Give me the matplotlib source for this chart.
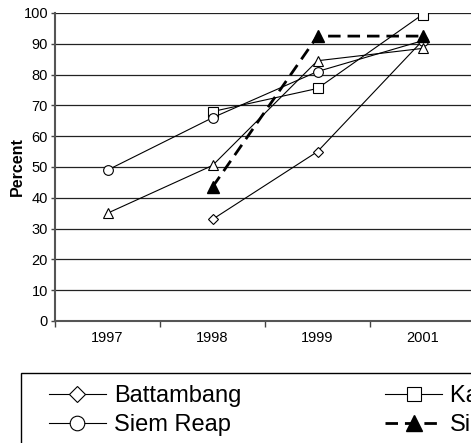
import matplotlib
matplotlib.use("Agg")
import matplotlib.pyplot as plt
from matplotlib.patches import Rectangle
import numpy as np

plt.rcParams['font.family'] = ['Liberation Sans', 'DejaVu Sans']

years = ['1997', '1998', '1999', '2001']
battambang = [np.nan, 33, 55, 91]
kampong = [np.nan, 68, 75.5, 99.5]
siem_reap = [49, 66, 81, 91]
other = [35, 50.5, 84.5, 88.5]
sihanouk = [np.nan, 43.5, 92.5, 92.5]
yticks = list(range(0, 101, 10))

W, H = 471, 443
fig = plt.figure(figsize=(W / 100, H / 100), dpi=100)
ax = fig.add_axes([55 / W, (H - 321) / H, 420 / W, 308 / H])
x = np.arange(len(years))

ax.set_xlim(-0.5, len(years) - 0.5)
ax.set_ylim(0, 100)
ax.set_yticks(yticks)
ax.set_yticklabels([str(t) for t in yticks], fontsize=10.5)
for t in yticks[1:]:
    ax.axhline(t, color='#222222', lw=0.9, zorder=1)

ax.set_xticks(x)
ax.set_xticklabels(years, fontsize=10.5)
ax.tick_params(axis='x', length=0, pad=7)
ax.set_xticks(np.arange(-0.5, len(years) + 0.5, 1), minor=True)
ax.tick_params(axis='x', which='minor', length=4, direction='out', color='#444444', width=1)
ax.tick_params(axis='y', length=3, direction='out', color='#444444', width=1, pad=2)
for s in ['top', 'right']:
    ax.spines[s].set_visible(False)
for s in ['left', 'bottom']:
    ax.spines[s].set_color('#555555')
    ax.spines[s].set_linewidth(1.5)
ax.set_ylabel('Percent', fontsize=11.5, fontweight='bold', labelpad=-1)

mk = dict(markerfacecolor='white', markeredgecolor='black', markeredgewidth=0.8)
h1, = ax.plot(x, battambang, color='black', lw=0.8, marker='D', markersize=5.5, label='Battambang', zorder=3, **mk)
h2, = ax.plot(x, kampong, color='black', lw=0.8, marker='s', markersize=7, label='Kampong Cham', zorder=3, **mk)
h3, = ax.plot(x, siem_reap, color='black', lw=0.8, marker='o', markersize=7, label='Siem Reap', zorder=3, **mk)
h4, = ax.plot(x, other, color='black', lw=0.8, marker='^', markersize=7, label='Pursat', zorder=3, **mk)
h5, = ax.plot(x, sihanouk, color='black', lw=2, ls=(0, (4.5, 2.5)), marker='^', markersize=8,
              markerfacecolor='black', markeredgecolor='black', label='Sihanoukville', zorder=4)

fig.patches.append(Rectangle((21 / W, -0.1), 1.2, (H - 373) / H + 0.1, transform=fig.transFigure,
                             fill=False, edgecolor='black', lw=1))
leg = fig.legend(handles=[h1, h3, h2, h5, h4], ncol=3, loc='upper left',
                 bbox_to_anchor=(49 / W, (H - 385) / H), frameon=False, borderpad=0,
                 borderaxespad=0, fontsize=17, handlelength=2.4, handletextpad=0.35,
                 labelspacing=0.29, columnspacing=6.1, markerscale=1.5)

fig.savefig('out.png', dpi=100)
